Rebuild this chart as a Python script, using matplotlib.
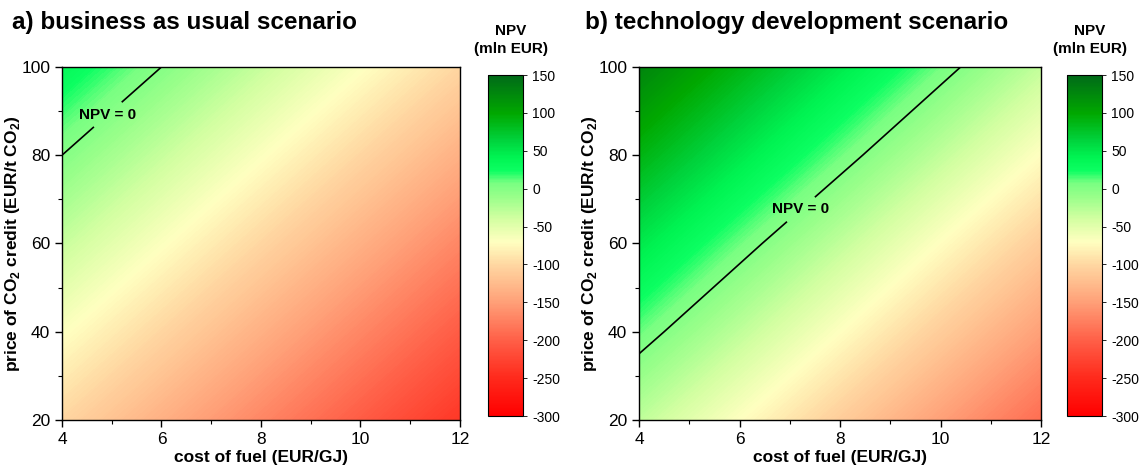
import matplotlib
matplotlib.use("Agg")
import matplotlib.pyplot as plt
import numpy as np
from matplotlib.colors import LinearSegmentedColormap, Normalize
from matplotlib.cm import ScalarMappable
from matplotlib.ticker import MultipleLocator

plt.rcParams['font.family'] = 'Liberation Sans'
plt.rcParams['mathtext.fontset'] = 'custom'
plt.rcParams['mathtext.rm'] = 'Liberation Sans'
plt.rcParams['mathtext.bf'] = 'Liberation Sans:bold'
plt.rcParams['axes.unicode_minus'] = False

# grid of the sensitivity analysis
fuel_cost = [4, 6, 8, 10, 12]          # EUR/GJ
co2_price = [20, 40, 60, 80, 100]      # EUR/t CO2

# NPV (mln EUR), rows = co2_price, columns = fuel_cost
npv_business = [
    [-102, -136, -170, -204, -238],
    [-68, -102, -136, -170, -204],
    [-34, -68, -102, -136, -170],
    [0, -34, -68, -102, -136],
    [34, 0, -34, -68, -102],
]
npv_technology = [
    [-30, -70, -110, -150, -190],
    [10, -30, -70, -110, -150],
    [49, 9, -31, -71, -111],
    [89, 49, 9, -31, -71],
    [128, 88, 48, 8, -32],
]

titles = ['a) business as usual scenario', 'b) technology development scenario']
label_pos = [(4.9, 89.5), (7.2, 68.0)]
cbar_ticks = [150, 100, 50, 0, -50, -100, -150, -200, -250, -300]

# colour scale red -> cream -> green -> dark green
vmin, vmax = -300, 150
stops = [
    (-300, '#ff0000'),
    (-250, '#ff2a1c'),
    (-200, '#ff6048'),
    (-150, '#ffa078'),
    (-100, '#ffd8a2'),
    (-70, '#ffffc0'),
    (-40, '#d4ffa2'),
    (-10, '#98ff8a'),
    (8, '#78ff82'),
    (24, '#0cff62'),
    (42, '#00f452'),
    (65, '#00d23c'),
    (100, '#00a800'),
    (150, '#006a18'),
]
cmap = LinearSegmentedColormap.from_list(
    'npv', [((v - vmin) / (vmax - vmin), c) for v, c in stops])
norm = Normalize(vmin=vmin, vmax=vmax)

fig = plt.figure(figsize=(11.45, 4.72), dpi=100)

ax_boxes = [[0.0541, 0.1102, 0.3476, 0.7479], [0.5581, 0.1102, 0.3511, 0.7479]]
cax_boxes = [[0.4262, 0.1186, 0.0306, 0.7225], [0.9319, 0.1186, 0.0306, 0.7225]]
title_x = [0.0105, 0.511]
cbar_title_x = [0.446, 0.952]

for i, npv in enumerate([npv_business, npv_technology]):
    ax = fig.add_axes(ax_boxes[i])
    npv = np.array(npv)
    ax.contourf(fuel_cost, co2_price, npv, levels=np.linspace(vmin, vmax, 451),
                cmap=cmap, norm=norm, antialiased=False)
    cs = ax.contour(fuel_cost, co2_price, npv, levels=[0], colors='black', linewidths=1.2)
    labels = ax.clabel(cs, inline=True, inline_spacing=-10, fmt={0: 'NPV = 0'},
                       fontsize=11, manual=[label_pos[i]])
    for t in labels:
        t.set_rotation(0)
        t.set_fontweight('bold')
        t.set_color('black')

    ax.set_xlim(4, 12)
    ax.set_ylim(20, 100)
    ax.set_xticks([4, 6, 8, 10, 12])
    ax.set_yticks([20, 40, 60, 80, 100])
    ax.xaxis.set_minor_locator(MultipleLocator(1))
    ax.yaxis.set_minor_locator(MultipleLocator(10))
    ax.tick_params(which='major', direction='out', length=5, width=1, labelsize=12.5)
    ax.tick_params(which='minor', direction='out', length=3, width=0.8)
    for s in ax.spines.values():
        s.set_linewidth(1.0)
    ax.set_xlabel('cost of fuel (EUR/GJ)', fontsize=12.5, fontweight='bold', labelpad=2)
    ax.set_ylabel('price of CO$_\\mathbf{2}$ credit (EUR/t CO$_\\mathbf{2}$)',
                  fontsize=12.5, fontweight='bold')
    ax.yaxis.set_label_coords(-0.1, 0.5)
    fig.text(title_x[i], 0.953, titles[i], fontsize=17.5, fontweight='bold',
             ha='left', va='center')

    cax = fig.add_axes(cax_boxes[i])
    cb = fig.colorbar(ScalarMappable(norm=norm, cmap=cmap), cax=cax, ticks=cbar_ticks)
    cb.outline.set_linewidth(0.8)
    cax.tick_params(labelsize=10, length=3, width=0.6)
    fig.text(cbar_title_x[i], 0.915, 'NPV\n(mln EUR)', ha='center', va='center',
             fontsize=11, fontweight='bold', linespacing=1.3)

fig.savefig('out.png', dpi=100)
